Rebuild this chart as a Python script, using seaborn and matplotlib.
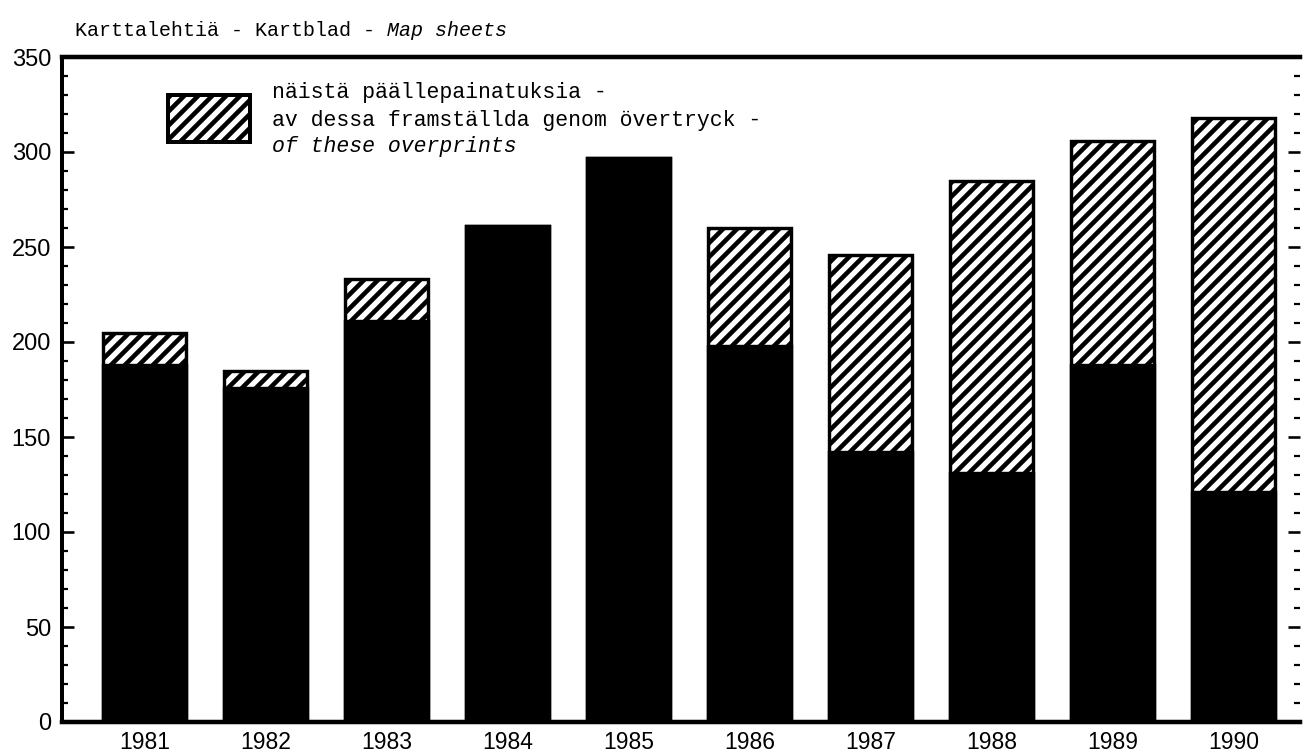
import matplotlib
matplotlib.use("Agg")
import matplotlib.pyplot as plt
import seaborn as sns
import pandas as pd
from matplotlib.patches import Rectangle
from matplotlib.ticker import MultipleLocator

years = ["1981", "1982", "1983", "1984", "1985", "1986", "1987", "1988", "1989", "1990"]
total_sheets = [205, 185, 233, 261, 297, 260, 246, 285, 306, 318]
regular_sheets = [188, 176, 211, 261, 297, 198, 142, 131, 188, 121]

title_main = "Karttalehtiä - Kartblad - "
title_en = "Map sheets"
legend_lines = ["näistä päällepainatuksia -", "av dessa framställda genom övertryck -", "of these overprints"]

DPI = 84                # hatch cell follows dpi; '//' then gives ~14 px line spacing
F = 100 / DPI           # scale pt sizes designed at 100 dpi
PXPT = 72 / DPI         # points per output pixel

sns.set_theme(style="white")
plt.rcParams.update({
    "hatch.linewidth": 4.6 * PXPT,
    "hatch.color": "black",
    "text.color": "black",
    "xtick.color": "black",
    "ytick.color": "black",
    "xtick.labelcolor": "black",
    "ytick.labelcolor": "black",
})

df = pd.DataFrame({"year": years, "total": total_sheets, "regular": regular_sheets})

fig = plt.figure(figsize=(1304 / DPI, 754 / DPI), dpi=DPI)
ax = fig.add_axes([62/1304, 32/754, (1300-62)/1304, (722-57)/754])

sns.barplot(data=df, x="year", y="total", order=years, color="white", saturation=1,
            width=0.685, edgecolor="black", linewidth=3.4 * PXPT, hatch="//", ax=ax, zorder=2)
sns.barplot(data=df, x="year", y="regular", order=years, color="black", saturation=1,
            width=0.685, edgecolor="black", linewidth=3.4 * PXPT, ax=ax, zorder=3)

ax.set_xlim(-0.68, 9.55)
ax.set_ylim(0, 350)
ax.set_xlabel("")
ax.set_ylabel("")

for s in ["left", "top", "bottom"]:
    ax.spines[s].set_visible(True)
    ax.spines[s].set_color("black")
ax.spines["left"].set_linewidth(4 * PXPT)
ax.spines["top"].set_linewidth(4.5 * PXPT)
ax.spines["bottom"].set_linewidth(4.5 * PXPT)
ax.spines["right"].set_visible(False)

ax.yaxis.set_major_locator(MultipleLocator(50))
ax.yaxis.set_minor_locator(MultipleLocator(10))
ax.tick_params(axis="y", which="major", direction="in", length=12 * PXPT, width=2.6 * PXPT,
               left=True, right=True, color="black", labelsize=17 * F, pad=11 * PXPT)
ax.tick_params(axis="y", which="minor", direction="in", length=6 * PXPT, width=2.2 * PXPT,
               left=True, right=True, color="black")
ax.tick_params(axis="x", which="both", bottom=False, top=False, labelsize=16.5 * F, pad=2 * PXPT)
for lab in ax.get_yticklabels():
    lab.set_family(["Liberation Sans", "DejaVu Sans"])
for lab in ax.get_xticklabels():
    lab.set_family(["Liberation Sans", "DejaVu Sans"])
ax.grid(False)

mono = ["Liberation Mono", "DejaVu Sans Mono"]

# legend swatch and texts
ax.add_patch(Rectangle((0.0856, 0.872), 0.0662, 0.0707, transform=ax.transAxes,
                       facecolor="white", edgecolor="black", linewidth=4 * PXPT, hatch="//",
                       zorder=5, clip_on=False))
ys = [0.947, 0.905, 0.865]
for i, (line, y) in enumerate(zip(legend_lines, ys)):
    ax.text(0.1696, y, line, transform=ax.transAxes, fontsize=15.5 * F, family=mono,
            style="italic" if i == 2 else "normal", va="center", ha="left", zorder=6,
            color="black")

t = fig.text(75/1304, 0.960, title_main, fontsize=14.4 * F, family=mono, va="center",
             ha="left", color="black")
fig.canvas.draw()
ax.annotate(title_en, xy=(1, 0.5), xycoords=t, va="center", ha="left", color="black",
            fontsize=14.4 * F, family=mono, style="italic", annotation_clip=False)

fig.savefig("out.png", dpi=DPI)
